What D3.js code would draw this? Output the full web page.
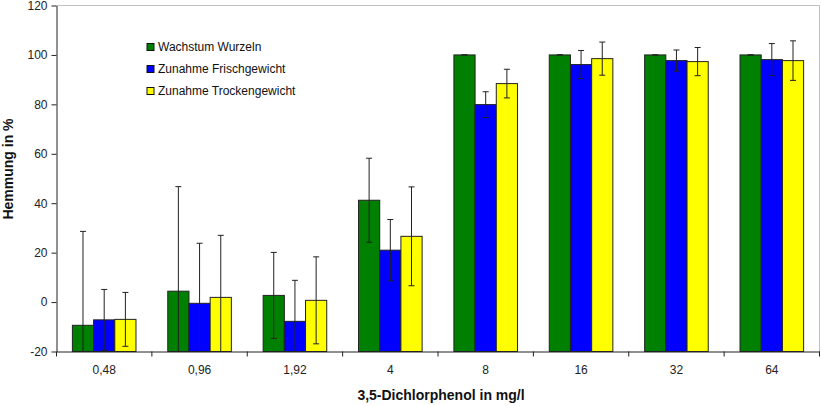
<!DOCTYPE html>
<html><head><meta charset="utf-8">
<script src="https://cdn.jsdelivr.net/npm/d3@7"></script>
<style>body{margin:0;background:#fff}svg{display:block;font-family:"Liberation Sans",Arial,sans-serif}</style>
</head><body><svg id="c" width="821" height="406"></svg>
<script>
const categories = ["0,48","0,96","1,92","4","8","16","32","64"];
const seriesNames = ["Wachstum Wurzeln","Zunahme Frischgewicht","Zunahme Trockengewicht"];
const seriesColors = ["#008000","#0000FF","#FFFF00"];
const wurzeln = [-9.4, 4.4, 2.7, 41.2, 100, 100, 100, 100];
const wurzelnErr = [38, 42.3, 17.4, 17, 0, 0, 0, 0];
const frisch = [-7.2, -0.5, -7.8, 21.0, 79.9, 96.1, 97.7, 98.1];
const frischErr = [12.3, 24.3, 16.6, 12.4, 5.2, 5.7, 4.3, 6.5];
const trocken = [-7.0, 1.9, 0.7, 26.6, 88.4, 98.5, 97.3, 97.7];
const trockenErr = [10.9, 25.1, 17.6, 20, 5.8, 6.7, 5.7, 8];
const yTicks = [-20,0,20,40,60,80,100,120];

const values = [wurzeln, frisch, trocken];
const errs = [wurzelnErr, frischErr, trockenErr];

const svg = d3.select("#c");
const L = 56.5, R = 819.5, T = 5.5, B = 351.5;
const x = d3.scaleBand().domain(categories).range([L, R]).padding(0);
const y = d3.scaleLinear().domain([-20, 120]).range([B, T]);
const barW = x.bandwidth() / 4.5;

svg.append("path").attr("d", `M${L},${T}H${R}V${B}`).attr("fill","none").attr("stroke","#c0c0c0").attr("stroke-width",1);

svg.append("clipPath").attr("id","clip").append("rect").attr("x",L).attr("y",T).attr("width",R-L).attr("height",B-T);

const g = svg.append("g");
categories.forEach((c, i) => {
  const cx = x(c) + x.bandwidth()/2;
  values.forEach((vals, s) => {
    const bx = cx - 1.5*barW + s*barW;
    const v = vals[i];
    g.append("rect")
      .attr("x", bx).attr("width", barW)
      .attr("y", Math.min(y(v), y(-20))).attr("height", Math.abs(y(-20) - y(v)))
      .attr("fill", seriesColors[s]).attr("stroke", "#222").attr("stroke-width", 1);
  });
});
const eg = svg.append("g").attr("clip-path","url(#clip)");
categories.forEach((c, i) => {
  const cx = x(c) + x.bandwidth()/2;
  values.forEach((vals, s) => {
    const mx = cx - 1.5*barW + s*barW + barW/2;
    const v = vals[i], e = errs[s][i];
    const hi = y(v + e), lo = y(v - e);
    eg.append("line").attr("x1",mx).attr("x2",mx).attr("y1",hi).attr("y2",lo).attr("stroke","#222").attr("stroke-width",1);
    [hi, lo].forEach(yy => eg.append("line").attr("x1",mx-3).attr("x2",mx+3).attr("y1",yy).attr("y2",yy).attr("stroke","#222").attr("stroke-width",1));
  });
});

const ya = svg.append("g").attr("transform",`translate(${L},0)`)
  .call(d3.axisLeft(y).tickValues(yTicks).tickSize(5).tickSizeOuter(0).tickPadding(4).tickFormat(d => d));
ya.select(".domain").attr("stroke","#222");
ya.selectAll(".tick line").attr("stroke","#222");
ya.selectAll("text").attr("font-size",12).attr("fill","#222").attr("font-family","Liberation Sans, Arial, sans-serif");

const xa = svg.append("g").attr("transform",`translate(0,${B})`)
  .call(d3.axisBottom(x).tickSize(0).tickPadding(14));
xa.select(".domain").attr("stroke","#222");
xa.selectAll("text").attr("font-size",12).attr("fill","#222").attr("font-family","Liberation Sans, Arial, sans-serif");
const bounds = categories.map(c => x(c)).concat([R]);
svg.append("g").selectAll("line").data(bounds).join("line")
  .attr("x1",d=>d).attr("x2",d=>d).attr("y1",B).attr("y2",B+5).attr("stroke","#222");

svg.append("text").attr("x", 441).attr("y", 400).attr("text-anchor","middle")
  .attr("font-size",14).attr("font-weight","bold").attr("fill","#111").text("3,5-Dichlorphenol in mg/l");
svg.append("text").attr("transform","translate(13,169) rotate(-90)").attr("text-anchor","middle")
  .attr("font-size",14).attr("font-weight","bold").attr("fill","#111").text("Hemmung in %");

const lg = svg.append("g");
seriesNames.forEach((n, i) => {
  const yy = 47 + i*22;
  lg.append("rect").attr("x",147).attr("y",yy-3.5).attr("width",7).attr("height",7)
    .attr("fill",seriesColors[i]).attr("stroke","#111").attr("stroke-width",1);
  lg.append("text").attr("x",158).attr("y",yy+4.3).attr("font-size",12).attr("fill","#111").text(n);
});
</script></body></html>
